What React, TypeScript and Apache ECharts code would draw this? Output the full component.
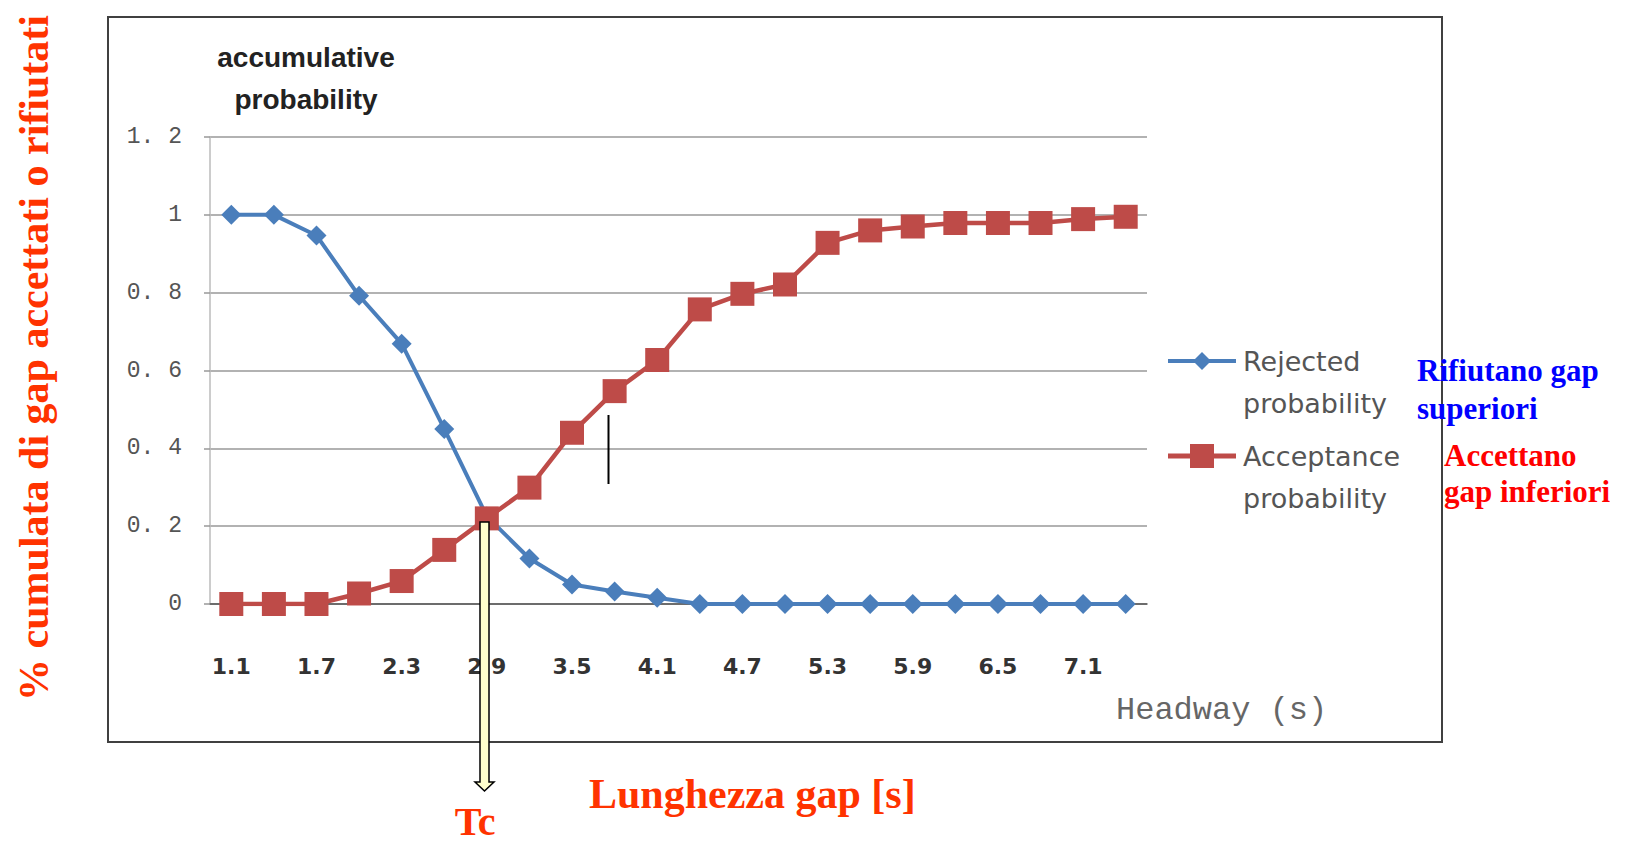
import React, { useEffect, useRef } from "react";
import * as echarts from "echarts";

const headways = ["1.1","1.4","1.7","2.0","2.3","2.6","2.9","3.2","3.5","3.8","4.1","4.4","4.7","5.0","5.3","5.6","5.9","6.2","6.5","6.8","7.1","7.4"];
const rejectedProbability = [1, 1, 0.947, 0.792, 0.669, 0.45, 0.225, 0.117, 0.05, 0.032, 0.016, 0, 0, 0, 0, 0, 0, 0, 0, 0, 0, 0];
const acceptanceProbability = [0, 0, 0, 0.027, 0.059, 0.139, 0.22, 0.299, 0.44, 0.547, 0.627, 0.757, 0.797, 0.821, 0.928, 0.96, 0.97, 0.979, 0.979, 0.979, 0.989, 0.995];
const seriesNames = ["Rejected probability", "Acceptance probability"];

const BLUE = "#4A7EBB";
const RED = "#BE4B48";
const ORANGE = "#FF3300";
const SERIF = "'Liberation Serif', 'Times New Roman', serif";

export default function App() {
  const ref = useRef<HTMLDivElement>(null);
  useEffect(() => {
    if (!ref.current) return;
    const chart = echarts.init(ref.current, undefined, { renderer: "svg" });
    chart.setOption({
      animation: false,
      backgroundColor: "#ffffff",
      grid: { left: 210, right: 481, top: 137, bottom: 241 },
      xAxis: {
        type: "category",
        data: headways,
        boundaryGap: true,
        axisLine: { lineStyle: { color: "#555", width: 1.5 } },
        axisTick: { show: false },
        axisLabel: {
          interval: 1,
          margin: 51,
          color: "#333",
          fontFamily: "'DejaVu Sans', sans-serif",
          fontWeight: "bold",
          fontSize: 22,
        },
      },
      yAxis: {
        type: "value",
        min: 0,
        max: 1.2,
        interval: 0.2,
        axisLine: { show: true, lineStyle: { color: "#bbb", width: 1.5 } },
        axisTick: { show: true, length: 6, lineStyle: { color: "#999", width: 1.5 } },
        splitLine: { lineStyle: { color: "#999", width: 1.5 } },
        axisLabel: {
          margin: 28,
          color: "#555",
          fontFamily: "'Liberation Mono', monospace",
          fontSize: 23,
          formatter: (v: number) => {
            const r = Math.round(v * 10) / 10;
            if (r === 0) return "0";
            if (r === 1) return "1";
            return r.toFixed(1).replace(".", ". ");
          },
        },
      },
      series: [
        {
          name: seriesNames[0],
          type: "line",
          data: rejectedProbability,
          symbol: "diamond",
          symbolSize: 20,
          lineStyle: { color: BLUE, width: 4 },
          itemStyle: { color: BLUE },
        },
        {
          name: seriesNames[1],
          type: "line",
          data: acceptanceProbability,
          symbol: "rect",
          symbolSize: 24,
          lineStyle: { color: RED, width: 4.5 },
          itemStyle: { color: RED },
        },
      ],
      graphic: [
        {
          type: "rect",
          shape: { x: 108, y: 17, width: 1334, height: 725 },
          style: { fill: "none", stroke: "#404040", lineWidth: 2 },
          z: -1,
        },
        {
          type: "text",
          x: 306,
          y: 36,
          style: {
            text: "accumulative\nprobability",
            align: "center",
            verticalAlign: "top",
            fontFamily: "'Liberation Sans', Arial, sans-serif",
            fontWeight: "bold",
            fontSize: 28,
            lineHeight: 42,
            fill: "#222",
          },
        },
        {
          type: "text",
          x: 1116,
          y: 710,
          style: {
            text: "Headway (s)",
            align: "left",
            verticalAlign: "middle",
            fontFamily: "'Liberation Mono', monospace",
            fontSize: 32,
            fill: "#666",
          },
        },
        // legend
        { type: "line", shape: { x1: 1168, y1: 361, x2: 1236, y2: 361 }, style: { stroke: BLUE, lineWidth: 4 } },
        { type: "polygon", shape: { points: [[1202, 352], [1211, 361], [1202, 370], [1193, 361]] }, style: { fill: BLUE } },
        { type: "line", shape: { x1: 1168, y1: 456, x2: 1236, y2: 456 }, style: { stroke: RED, lineWidth: 5 } },
        { type: "rect", shape: { x: 1190, y: 444, width: 24, height: 24 }, style: { fill: RED } },
        {
          type: "text",
          x: 1243,
          y: 340,
          style: {
            text: "Rejected\nprobability",
            align: "left",
            verticalAlign: "top",
            fontFamily: "'DejaVu Sans', sans-serif",
            fontSize: 27,
            lineHeight: 42,
            fill: "#555",
          },
        },
        {
          type: "text",
          x: 1243,
          y: 435,
          style: {
            text: "Acceptance\nprobability",
            align: "left",
            verticalAlign: "top",
            fontFamily: "'DejaVu Sans', sans-serif",
            fontSize: 27,
            lineHeight: 42,
            fill: "#555",
          },
        },
        // annotations
        {
          type: "text",
          x: 1417,
          y: 351,
          style: {
            text: "Rifiutano gap\nsuperiori",
            align: "left",
            verticalAlign: "top",
            fontFamily: SERIF,
            fontWeight: "bold",
            fontSize: 31,
            lineHeight: 38,
            fill: "#0000FF",
          },
        },
        {
          type: "text",
          x: 1444,
          y: 437,
          style: {
            text: "Accettano\ngap inferiori",
            align: "left",
            verticalAlign: "top",
            fontFamily: SERIF,
            fontWeight: "bold",
            fontSize: 31,
            lineHeight: 36,
            fill: "#FF0000",
          },
        },
        {
          type: "text",
          x: 34,
          y: 358,
          rotation: Math.PI / 2,
          style: {
            text: "% cumulata di gap accettati o rifiutati",
            align: "center",
            verticalAlign: "middle",
            fontFamily: SERIF,
            fontWeight: "bold",
            fontSize: 42,
            fill: ORANGE,
          },
        },
        {
          type: "text",
          x: 589,
          y: 794,
          style: {
            text: "Lunghezza gap [s]",
            align: "left",
            verticalAlign: "middle",
            fontFamily: SERIF,
            fontWeight: "bold",
            fontSize: 42,
            fill: ORANGE,
          },
        },
        {
          type: "text",
          x: 475,
          y: 841,
          style: {
            text: "Tc",
            align: "center",
            verticalAlign: "bottom",
            fontFamily: SERIF,
            fontWeight: "bold",
            fontSize: 40,
            fill: ORANGE,
          },
        },
        {
          type: "polygon",
          shape: {
            points: [[480, 522], [489, 522], [489, 782], [494, 782], [484.5, 791], [475, 782], [480, 782]],
          },
          style: { fill: "#FFFFCC", stroke: "#000", lineWidth: 1.5 },
          z: 10,
        },
        {
          type: "line",
          shape: { x1: 608.5, y1: 415, x2: 608.5, y2: 484 },
          style: { stroke: "#000", lineWidth: 2 },
          z: 10,
        },
      ],
    });
    return () => chart.dispose();
  }, []);
  return (
    <div
      ref={ref}
      style={{ position: "fixed", left: 0, top: 0, width: 1628, height: 845 }}
    />
  );
}
